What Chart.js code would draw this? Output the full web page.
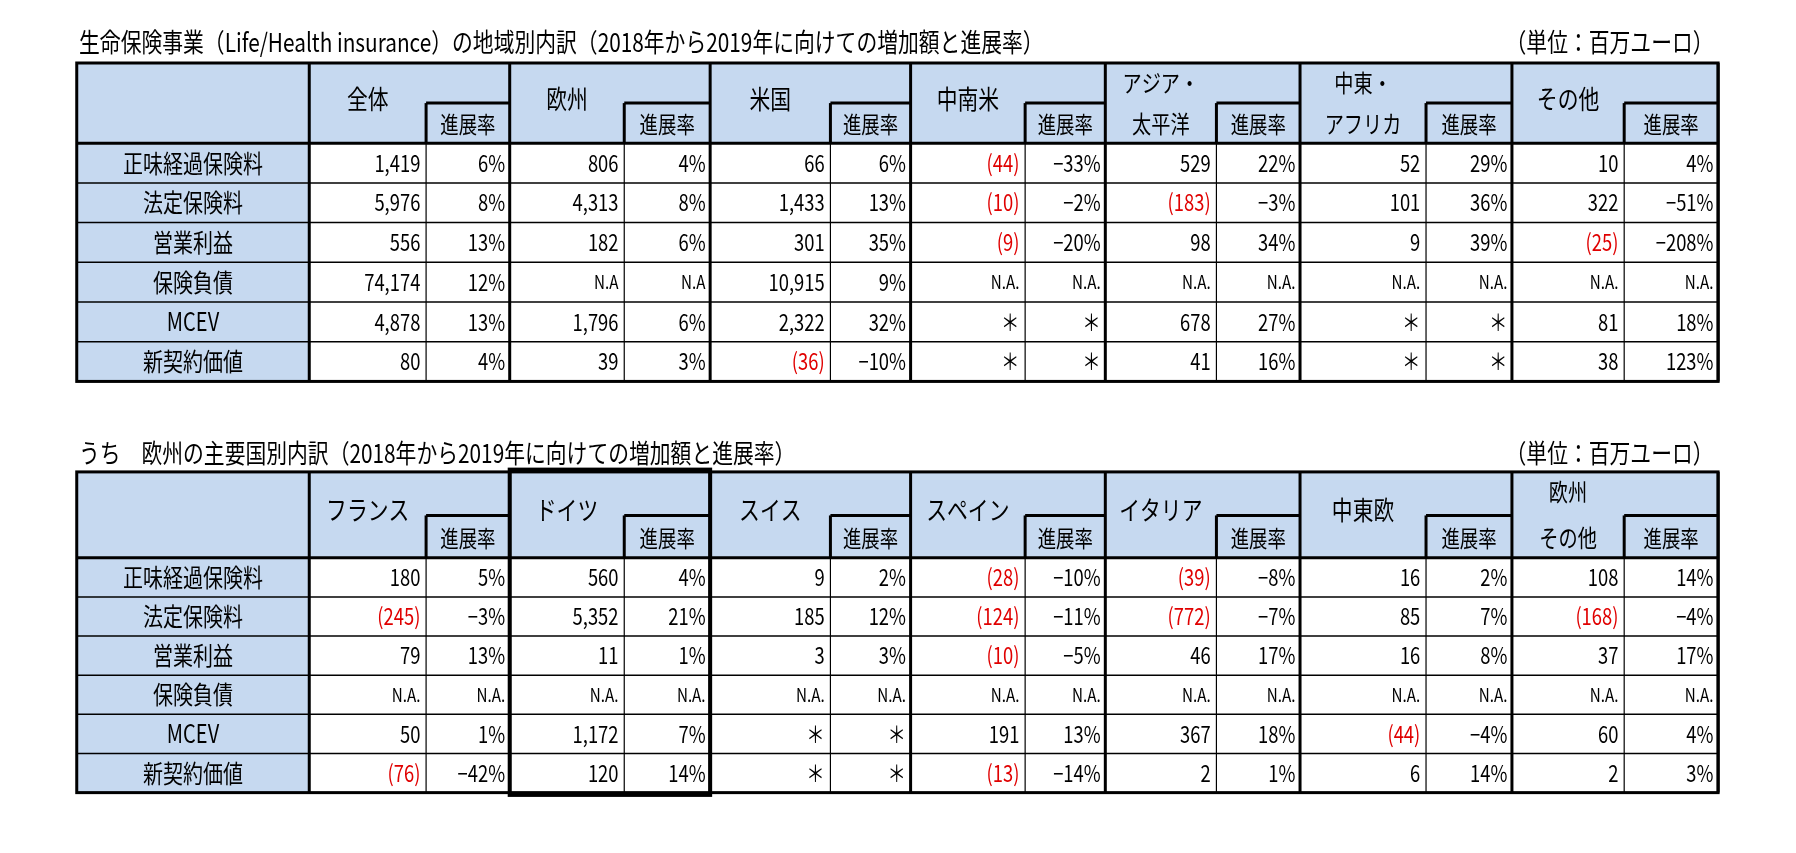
<!DOCTYPE html>
<html><head><meta charset="utf-8">
<script src="https://cdn.jsdelivr.net/npm/chart.js@4"></script>
<style>body{margin:0;background:#fff}canvas{display:block}</style>
</head><body>
<canvas id="c" width="1796" height="853"></canvas>
<script>
// data
const rowLabels = ["正味経過保険料", "法定保険料", "営業利益", "保険負債", "MCEV", "新契約価値"];

const title1 = "生命保険事業（Life/Health insurance）の地域別内訳（2018年から2019年に向けての増加額と進展率）";
const regions1 = ["全体", "欧州", "米国", "中南米", "アジア・\n太平洋", "中東・\nアフリカ", "その他"];
const amounts1 = [
  ["1,419", "806", "66", "(44)", "529", "52", "10"],
  ["5,976", "4,313", "1,433", "(10)", "(183)", "101", "322"],
  ["556", "182", "301", "(9)", "98", "9", "(25)"],
  ["74,174", "N.A", "10,915", "N.A.", "N.A.", "N.A.", "N.A."],
  ["4,878", "1,796", "2,322", "＊", "678", "＊", "81"],
  ["80", "39", "(36)", "＊", "41", "＊", "38"]
];
const rates1 = [
  ["6%", "4%", "6%", "−33%", "22%", "29%", "4%"],
  ["8%", "8%", "13%", "−2%", "−3%", "36%", "−51%"],
  ["13%", "6%", "35%", "−20%", "34%", "39%", "−208%"],
  ["12%", "N.A", "9%", "N.A.", "N.A.", "N.A.", "N.A."],
  ["13%", "6%", "32%", "＊", "27%", "＊", "18%"],
  ["4%", "3%", "−10%", "＊", "16%", "＊", "123%"]
];

const title2 = "うち　欧州の主要国別内訳（2018年から2019年に向けての増加額と進展率）";
const countries2 = ["フランス", "ドイツ", "スイス", "スペイン", "イタリア", "中東欧", "欧州\nその他"];
const amounts2 = [
  ["180", "560", "9", "(28)", "(39)", "16", "108"],
  ["(245)", "5,352", "185", "(124)", "(772)", "85", "(168)"],
  ["79", "11", "3", "(10)", "46", "16", "37"],
  ["N.A.", "N.A.", "N.A.", "N.A.", "N.A.", "N.A.", "N.A."],
  ["50", "1,172", "＊", "191", "367", "(44)", "60"],
  ["(76)", "120", "＊", "(13)", "2", "6", "2"]
];
const rates2 = [
  ["5%", "4%", "2%", "−10%", "−8%", "2%", "14%"],
  ["−3%", "21%", "12%", "−11%", "−7%", "7%", "−4%"],
  ["13%", "1%", "3%", "−5%", "17%", "8%", "17%"],
  ["N.A.", "N.A.", "N.A.", "N.A.", "N.A.", "N.A.", "N.A."],
  ["1%", "7%", "＊", "13%", "18%", "−4%", "4%"],
  ["−42%", "14%", "＊", "−14%", "1%", "14%", "3%"]
];
const unitLabel = "（単位：百万ユーロ）";
const rateLabel = "進展率";

// layout (in a 1568-wide coordinate space, scaled up to the canvas)
const SCALE = 1796 / 1568;
const colEdges = [67, 270, 372, 445, 545, 620, 725, 795, 895, 965, 1062, 1135, 1245, 1320, 1418, 1500];
const tables = [
  { title: title1, titleY: 37, top: 55, sub: 90, head: 125, bottom: 333, heads: regions1, amounts: amounts1, rates: rates1, boxCol: -1 },
  { title: title2, titleY: 396, top: 412, sub: 450, head: 487, bottom: 692, heads: countries2, amounts: amounts2, rates: rates2, boxCol: 1 }
];
const FONT = '"Noto Sans CJK JP", "Liberation Sans", sans-serif';
const HEAD_BG = "#c6d9f0";

const tablePlugin = {
  id: "tablePlugin",
  afterDraw(chart) {
    const ctx = chart.ctx, X = v => chart.scales.x.getPixelForValue(v), Y = v => chart.scales.y.getPixelForValue(v);
    function txt(s, x, y, align, size, color) {
      ctx.save();
      ctx.translate(X(x), Y(y));
      ctx.scale(0.8, 1);
      ctx.font = Math.round(size * SCALE) + "px " + FONT;
      ctx.fillStyle = color || "#000";
      ctx.textAlign = align;
      ctx.textBaseline = "middle";
      ctx.fillText(s, 0, 0);
      ctx.restore();
    }
    function line(x1, y1, x2, y2, w) {
      ctx.beginPath();
      ctx.lineWidth = w;
      ctx.strokeStyle = "#000";
      ctx.moveTo(X(x1), Y(y1));
      ctx.lineTo(X(x2), Y(y2));
      ctx.stroke();
    }
    const L = colEdges[0], R = colEdges[colEdges.length - 1];
    tables.forEach(t => {
      const rowH = (t.bottom - t.head) / rowLabels.length;
      ctx.fillStyle = HEAD_BG;
      ctx.fillRect(X(L), Y(t.top), X(R) - X(L), Y(t.head) - Y(t.top));
      ctx.fillRect(X(L), Y(t.head), X(colEdges[1]) - X(L), Y(t.bottom) - Y(t.head));
      txt(t.title, L + 2, t.titleY, "left", 23);
      txt(unitLabel, R - 4, t.titleY, "right", 23);
      t.heads.forEach((h, g) => {
        const gx = colEdges[1 + g * 2], sx = colEdges[2 + g * 2], ex = colEdges[3 + g * 2];
        const parts = h.split("\n");
        if (parts.length === 1) txt(h, (gx + sx) / 2, t.top + (t.head - t.top) * 0.45, "center", 23);
        else {
          txt(parts[0], (gx + sx) / 2, t.top + 17, "center", 21);
          txt(parts[1], (gx + sx) / 2, t.head - 17, "center", 21);
        }
        txt(rateLabel, (sx + ex) / 2, (t.sub + t.head) / 2 + 1, "center", 20);
        line(sx, t.sub, ex, t.sub, 3);
        line(sx, t.sub, sx, t.head, 3);
      });
      rowLabels.forEach((lab, r) => {
        const cy = t.head + rowH * (r + 0.5);
        txt(lab, (L + colEdges[1]) / 2, cy, "center", 22);
        for (let g = 0; g < 7; g++) {
          const a = t.amounts[r][g], p = t.rates[r][g];
          txt(a, colEdges[2 + g * 2] - 5, cy, "right", a.startsWith("N.A") ? 17 : 20, a.startsWith("(") ? "#e00000" : "#000");
          txt(p, colEdges[3 + g * 2] - 4, cy, "right", p.startsWith("N.A") ? 17 : 20);
        }
        if (r > 0) line(L, t.head + rowH * r, R, t.head + rowH * r, 1.5);
      });
      for (let g = 0; g < 7; g++) line(colEdges[2 + g * 2], t.head, colEdges[2 + g * 2], t.bottom, 1.2);
      for (let i = 1; i < colEdges.length; i += 2) line(colEdges[i], t.top, colEdges[i], t.bottom, 3);
      line(L, t.head, R, t.head, 3);
      ctx.lineWidth = 3;
      ctx.strokeRect(X(L), Y(t.top), X(R) - X(L), Y(t.bottom) - Y(t.top));
      if (t.boxCol >= 0) {
        const bx = colEdges[1 + t.boxCol * 2], ex = colEdges[3 + t.boxCol * 2];
        ctx.lineWidth = 4;
        ctx.strokeRect(X(bx), Y(t.top - 2), X(ex) - X(bx), Y(t.bottom + 2) - Y(t.top - 2));
      }
    });
  }
};

new Chart(document.getElementById("c"), {
  type: "scatter",
  data: { datasets: [{ data: [] }] },
  options: {
    responsive: false,
    animation: false,
    devicePixelRatio: 1,
    layout: { padding: 0 },
    plugins: { legend: { display: false }, tooltip: { enabled: false } },
    scales: {
      x: { type: "linear", min: 0, max: 1568, display: false },
      y: { type: "linear", min: 0, max: 853 / SCALE, reverse: true, display: false }
    }
  },
  plugins: [tablePlugin]
});
</script>
</body></html>
